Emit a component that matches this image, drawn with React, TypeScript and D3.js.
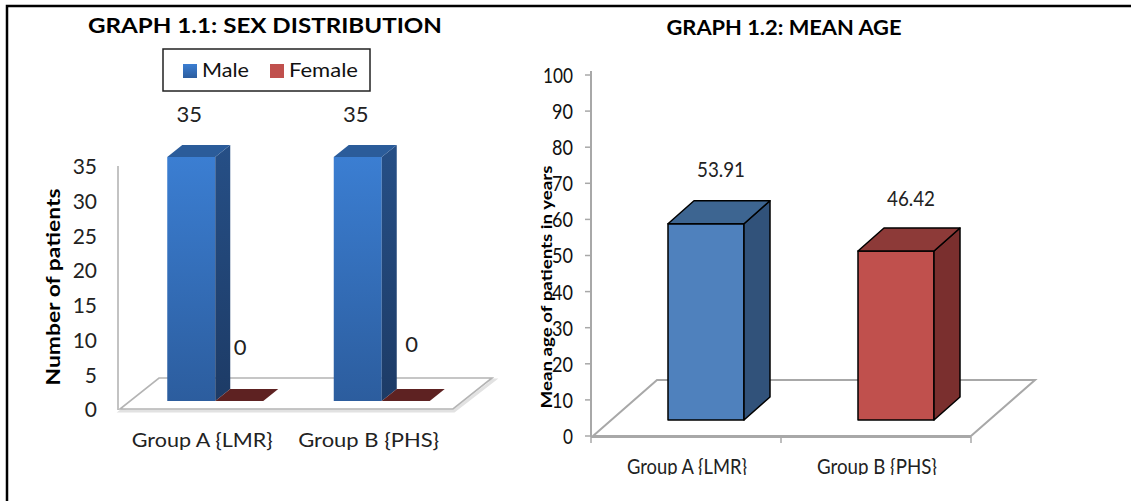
import React from "react";
import * as d3 from "d3";

// ---------- data ----------
const sexCategories = ["Group A {LMR}", "Group B {PHS}"];
const maleCounts = [35, 35];
const femaleCounts = [0, 0];
const sexTicks = [0, 5, 10, 15, 20, 25, 30, 35];
const legendItems = ["Male", "Female"];

const ageCategories = ["Group A {LMR}", "Group B {PHS}"];
const meanAges = [53.91, 46.42];
const ageTicks = [0, 10, 20, 30, 40, 50, 60, 70, 80, 90, 100];

const FONT = "Lato, 'Open Sans', sans-serif";

function boxFaces(x: number, w: number, yTop: number, yBot: number, dx: number, dy: number) {
  const front = `M${x},${yTop}H${x + w}V${yBot}H${x}Z`;
  const side = `M${x + w},${yTop}L${x + w + dx},${yTop + dy}L${x + w + dx},${yBot + dy}L${x + w},${yBot}Z`;
  const top = `M${x},${yTop}L${x + dx},${yTop + dy}L${x + w + dx},${yTop + dy}L${x + w},${yTop}Z`;
  return { front, side, top };
}

function SexChart() {
  const x = d3.scaleBand<string>().domain(sexCategories).range([120, 453]);
  const y = d3.scaleLinear().domain([0, 35]).range([410, 167]);
  const yBar = d3.scaleLinear().domain([0, 35]).range([401, 157]);
  const bw = 48;
  const dx = 15, dy = -12;
  const cx = (c: string) => (x(c) as number) + x.bandwidth() / 2 + 12;
  return (
    <g>
      <text x={265} y={33} textAnchor="middle" fontFamily={FONT} fontWeight="bold" fontSize={21} textLength={354} lengthAdjust="spacingAndGlyphs" fill="#000">
        GRAPH 1.1: SEX DISTRIBUTION
      </text>
      {/* legend */}
      <rect x={163} y={49} width={207} height={42} fill="#fff" stroke="#222" strokeWidth={1.5} />
      <rect x={183} y={64} width={14} height={14} fill="url(#maleFront)" />
      <text x={202} y={77} fontFamily={FONT} fontSize={20} fill="#111" textLength={47} lengthAdjust="spacingAndGlyphs">{legendItems[0]}</text>
      <rect x={270} y={64} width={14} height={14} fill="#C0504D" />
      <text x={289} y={77} fontFamily={FONT} fontSize={20} fill="#111" textLength={69} lengthAdjust="spacingAndGlyphs">{legendItems[1]}</text>

      {/* floor */}
      <path d="M121,411L454,411L494,380L161,380Z" fill="none" stroke="#e2e2e2" strokeWidth={3} />
      <path d="M120,409L453,409L492,378L159,378Z" fill="#fff" stroke="#b4b4b4" strokeWidth={1.6} />
      {/* axis */}
      <line x1={118} x2={118} y1={166} y2={410} stroke="#b4b4b4" strokeWidth={1.6} />
      {sexTicks.map((t) => (
        <text key={t} x={97} y={y(t)} dy="0.35em" textAnchor="end" fontFamily={FONT} fontSize={21} fill="#222">
          {t}
        </text>
      ))}
      <text transform="translate(60,287) rotate(-90)" textAnchor="middle" fontFamily={FONT} fontWeight="bold" fontSize={18} fill="#000" textLength={197} lengthAdjust="spacingAndGlyphs">
        Number of patients
      </text>

      {sexCategories.map((c, i) => {
        const mx = cx(c) - bw;
        const m = boxFaces(mx, bw, yBar(maleCounts[i]), yBar(0), dx, dy);
        const fx = cx(c);
        const f = boxFaces(fx, bw, yBar(femaleCounts[i]), yBar(0), dx, dy);
        return (
          <g key={c}>
            <path d={m.front} fill="url(#maleFront)" />
            <path d={m.side} fill="url(#maleSide)" />
            <path d={m.top} fill="#2B5C9A" />
            {femaleCounts[i] > 0 && <path d={f.front} fill="#C0504D" />}
            {femaleCounts[i] > 0 && <path d={f.side} fill="#7B2E2D" />}
            <path d={f.top} fill="#5E2222" />
            <text x={mx + bw / 2 - 2} y={yBar(maleCounts[i]) - 35} textAnchor="middle" fontFamily={FONT} fontSize={22} fill="#222">
              {maleCounts[i]}
            </text>
            <text x={fx + bw / 2 + 1 + i * 5} y={yBar(femaleCounts[i]) - 46 - i * 3} textAnchor="middle" fontFamily={FONT} fontSize={22} fill="#222">
              {femaleCounts[i]}
            </text>
            <text x={(x(c) as number) + x.bandwidth() / 2 - 1} y={447} textAnchor="middle" fontFamily={FONT} fontSize={20} fill="#222" textLength={141} lengthAdjust="spacingAndGlyphs">
              {c}
            </text>
          </g>
        );
      })}
    </g>
  );
}

function AgeChart() {
  const x = d3.scaleBand<string>().domain(ageCategories).range([591, 971]);
  const y = d3.scaleLinear().domain([0, 100]).range([436, 75]);
  const yBar = d3.scaleLinear().domain([0, 100]).range([420, 56]);
  const bw = 76;
  const dx = 26, dy = -23;
  const fronts = ["#4F81BD", "#C0504D"];
  const sides = ["#31527A", "#7A2F2E"];
  const tops = ["#3D6591", "#8D3A38"];
  return (
    <g>
      <text x={784} y={35} textAnchor="middle" fontFamily={FONT} fontWeight="bold" fontSize={21} fill="#000" textLength={235} lengthAdjust="spacingAndGlyphs">
        GRAPH 1.2: MEAN AGE
      </text>
      <path d="M593,436L971,436L1035,380L657,380Z" fill="#fff" stroke="#a8a8a8" strokeWidth={2} />
      <line x1={591} x2={591} y1={71} y2={437} stroke="#a8a8a8" strokeWidth={2} />
      <line x1={591} x2={971} y1={437} y2={437} stroke="#a8a8a8" strokeWidth={2} />
      {ageTicks.map((t) => (
        <g key={t}>
          <line x1={585} x2={591} y1={y(t)} y2={y(t)} stroke="#a8a8a8" strokeWidth={1.5} />
          <text x={573} y={y(t)} dy="0.36em" textAnchor="end" fontFamily={FONT} fontSize={22} fill="#111" textLength={t >= 100 ? 30 : t === 0 ? 10 : 21} lengthAdjust="spacingAndGlyphs">
            {t}
          </text>
        </g>
      ))}
      {[591, 781, 971].map((v) => (
        <line key={v} x1={v} x2={v} y1={437} y2={443} stroke="#a8a8a8" strokeWidth={1.5} />
      ))}
      <clipPath id="ageCatClip">
        <rect x={591} y={440} width={400} height={35} />
      </clipPath>
      {ageCategories.map((c, i) => {
        const bx = (x(c) as number) + x.bandwidth() / 2 + 20 - bw / 2;
        const b = boxFaces(bx, bw, yBar(meanAges[i]), yBar(0), dx, dy);
        return (
          <g key={c}>
            <path d={b.front} fill={fronts[i]} stroke="#000" strokeWidth={1.5} strokeLinejoin="round" />
            <path d={b.side} fill={sides[i]} stroke="#000" strokeWidth={1.5} strokeLinejoin="round" />
            <path d={b.top} fill={tops[i]} stroke="#000" strokeWidth={1.5} strokeLinejoin="round" />
            <text x={bx + bw / 2 + dx / 2 + 2} y={yBar(meanAges[i]) + dy - 24 + i * 2} textAnchor="middle" fontFamily={FONT} fontSize={21} fill="#222" textLength={48} lengthAdjust="spacingAndGlyphs">
              {meanAges[i].toFixed(2)}
            </text>
            <text x={(x(c) as number) + x.bandwidth() / 2 + 1} y={474} textAnchor="middle" fontFamily={FONT} fontSize={21} fill="#222" textLength={120} lengthAdjust="spacingAndGlyphs" clipPath="url(#ageCatClip)">
              {c}
            </text>
          </g>
        );
      })}
      <text transform="translate(552,287) rotate(-90)" textAnchor="middle" fontFamily={FONT} fontWeight="bold" fontSize={15} fill="#000" textLength={243} lengthAdjust="spacingAndGlyphs">
        Mean age of patients in years
      </text>
    </g>
  );
}

export default function App() {
  return (
    <svg width={1131} height={501} style={{ position: "absolute", left: 0, top: 0, background: "#fff" }}>
      <defs>
        <linearGradient id="maleFront" x1="0" y1="0" x2="0" y2="1">
          <stop offset="0" stopColor="#3B7ED2" />
          <stop offset="1" stopColor="#2C5D9E" />
        </linearGradient>
        <linearGradient id="maleSide" x1="0" y1="0" x2="0" y2="1">
          <stop offset="0" stopColor="#264F86" />
          <stop offset="1" stopColor="#1D3B66" />
        </linearGradient>
      </defs>
      <rect x={0} y={0} width={1131} height={501} fill="#fff" />
      <path d="M7,501V6H1131" fill="none" stroke="#000" strokeWidth={2.5} />
      <SexChart />
      <AgeChart />
    </svg>
  );
}
